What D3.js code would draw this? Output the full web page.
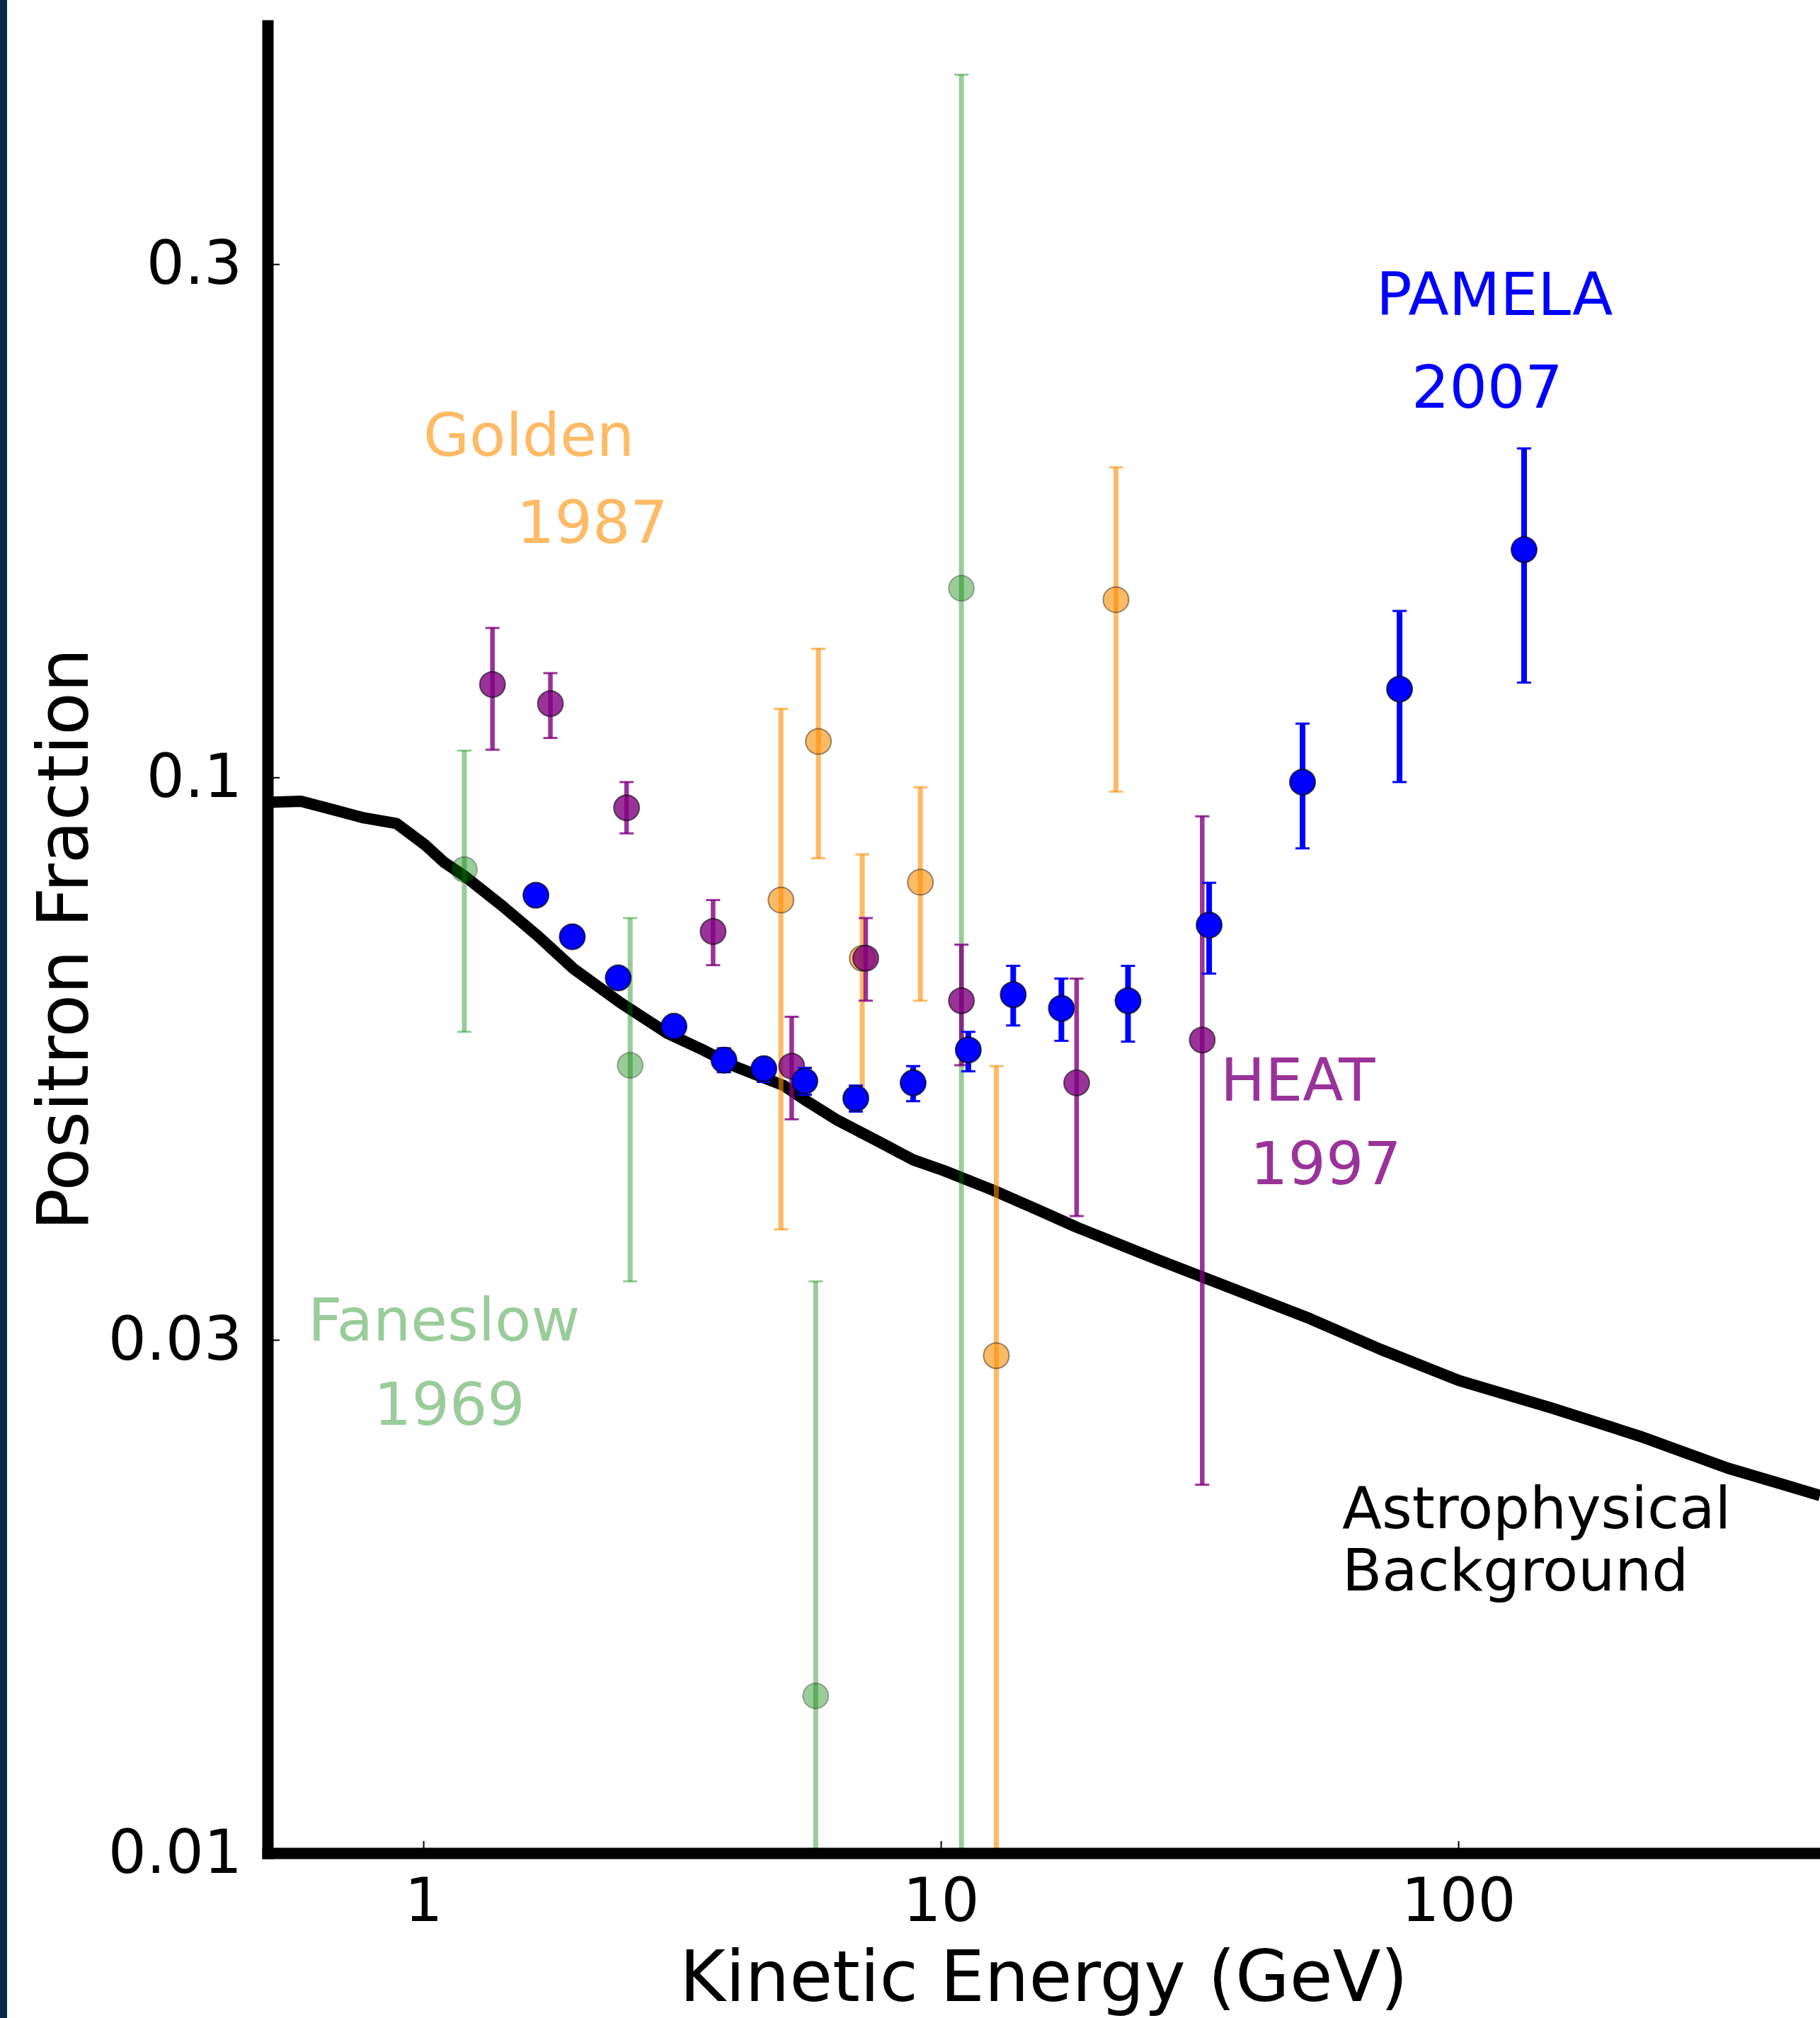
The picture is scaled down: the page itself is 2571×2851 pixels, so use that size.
<!DOCTYPE html>
<html>
<head>
<meta charset="utf-8">
<script src="https://cdn.jsdelivr.net/npm/d3@7"></script>
<style>
  html, body { margin: 0; padding: 0; background: #fff; }
  svg { display: block; }
</style>
</head>
<body>
<div id="chart"></div>
<script>
// Astrophysical background (black curve)
const bgEnergy = [0.5, 0.58, 0.664, 0.767, 0.887, 1.006, 1.096, 1.204, 1.423, 1.665, 1.95, 2.408, 2.965, 3.47, 4.024, 4.969, 5.513, 6.314, 7.553, 8.843, 10.13, 12.51, 15.44, 18.25, 26.3, 37.66, 51.61, 70.71, 100.3, 152.5, 224.7, 331.1, 500];
const bgFraction = [0.0948, 0.0950, 0.0934, 0.0917, 0.0906, 0.0866, 0.0834, 0.0809, 0.0759, 0.0712, 0.0664, 0.0617, 0.0578, 0.0558, 0.0538, 0.0517, 0.0500, 0.0480, 0.0459, 0.0441, 0.0431, 0.0414, 0.0396, 0.0382, 0.0356, 0.0333, 0.0314, 0.0294, 0.0275, 0.0259, 0.0244, 0.0228, 0.0215];

// Faneslow 1969
const faneEnergy = [1.20, 2.51, 5.73, 10.96];
const faneFraction = [0.0821, 0.0540, 0.0140, 0.1499];
const faneLow = [0.0580, 0.0340, 0.005, 0.005];
const faneHigh = [0.1059, 0.0740, 0.0340, 0.450];

// Golden 1987
const goldenEnergy = [4.91, 5.80, 7.05, 9.13, 12.8, 21.8];
const goldenFraction = [0.0769, 0.1080, 0.0679, 0.0799, 0.0290, 0.1463];
const goldenLow = [0.0380, 0.0841, 0.0508, 0.0620, 0.005, 0.0970];
const goldenHigh = [0.1158, 0.1317, 0.0848, 0.0979, 0.0539, 0.1942];

// HEAT 1997
const heatEnergy = [1.36, 1.76, 2.47, 3.63, 5.15, 7.16, 10.96, 18.3, 32.0];
const heatFraction = [0.1220, 0.1171, 0.0937, 0.0719, 0.0539, 0.0679, 0.0620, 0.0520, 0.0570];
const heatLow = [0.1061, 0.1088, 0.0887, 0.0669, 0.0481, 0.0620, 0.0540, 0.0391, 0.0220];
const heatHigh = [0.1377, 0.1250, 0.0990, 0.0769, 0.0599, 0.0740, 0.0699, 0.0650, 0.0920];

// PAMELA 2007
const pamelaEnergy = [1.65, 1.94, 2.38, 3.05, 3.81, 4.55, 5.46, 6.85, 8.84, 11.3, 13.8, 17.1, 23.0, 33.0, 50.0, 77.0, 134];
const pamelaFraction = [0.0777, 0.0711, 0.0651, 0.0587, 0.0546, 0.0536, 0.0522, 0.0503, 0.0520, 0.0558, 0.0628, 0.0610, 0.0620, 0.0729, 0.0990, 0.1208, 0.1628];
const pamelaLow = [0.0770, 0.0704, 0.0644, 0.0580, 0.0532, 0.0521, 0.0507, 0.0489, 0.0500, 0.0533, 0.0588, 0.0569, 0.0568, 0.0657, 0.0859, 0.0990, 0.1225];
const pamelaHigh = [0.0784, 0.0718, 0.0658, 0.0594, 0.0560, 0.0548, 0.0537, 0.0517, 0.0539, 0.0580, 0.0668, 0.0650, 0.0668, 0.0798, 0.1122, 0.1428, 0.2022];

// Ticks
const xTicks = [1, 10, 100];
const xTickLabels = ['1', '10', '100'];
const yTicks = [0.01, 0.03, 0.1, 0.3];
const yTickLabels = ['0.01', '0.03', '0.1', '0.3'];

const width = 2571, height = 2851;
const margin = { top: 36, right: 0, bottom: 233, left: 378 };
const font = 'DejaVu Sans, Verdana, sans-serif';

const svg = d3.select('#chart')
    .append('svg')
    .attr('width', width)
    .attr('height', height);

svg.append('rect').attr('width', width).attr('height', height).attr('fill', '#fff');
// dark strip on the left edge
svg.append('rect').attr('x', 0).attr('y', 0).attr('width', 10).attr('height', height).attr('fill', '#072a44');

const x = d3.scaleLog().domain([0.5, 500]).range([margin.left, width - margin.right]);
const y = d3.scaleLog().domain([0.01, 0.5]).range([height - margin.bottom, margin.top]);

svg.append('clipPath').attr('id', 'plot-clip')
    .append('rect')
    .attr('x', x.range()[0]).attr('y', y.range()[1])
    .attr('width', x.range()[1] - x.range()[0])
    .attr('height', y.range()[0] - y.range()[1]);

const plot = svg.append('g').attr('clip-path', 'url(#plot-clip)');

// Background curve
const line = d3.line().x(d => x(d[0])).y(d => y(d[1]));
plot.append('path')
    .datum(bgEnergy.map((e, i) => [e, bgFraction[i]]))
    .attr('d', line)
    .attr('fill', 'none')
    .attr('stroke', '#000')
    .attr('stroke-width', 16)
    .attr('stroke-linejoin', 'round');

// Punti con barre d'errore
function drawSeries(energy, frac, low, high, color, alpha, barWidth) {
    const pts = energy.map((e, i) => ({ e, f: frac[i], lo: low[i], hi: high[i] }));
    const g = plot.append('g');
    const [yMin, yMax] = y.domain();

    g.selectAll('line.bar')
        .data(pts)
        .join('line')
        .attr('class', 'bar')
        .attr('x1', d => x(d.e)).attr('x2', d => x(d.e))
        .attr('y1', d => y(d.lo)).attr('y2', d => y(d.hi))
        .attr('stroke', color)
        .attr('stroke-opacity', alpha)
        .attr('stroke-width', barWidth);

    const caps = [];
    pts.forEach(d => {
        if (d.lo >= yMin) caps.push({ e: d.e, v: d.lo });
        if (d.hi <= yMax) caps.push({ e: d.e, v: d.hi });
    });
    g.selectAll('line.cap')
        .data(caps)
        .join('line')
        .attr('class', 'cap')
        .attr('x1', d => x(d.e) - 10).attr('x2', d => x(d.e) + 10)
        .attr('y1', d => y(d.v)).attr('y2', d => y(d.v))
        .attr('stroke', color)
        .attr('stroke-opacity', alpha)
        .attr('stroke-width', 3);

    g.selectAll('circle')
        .data(pts)
        .join('circle')
        .attr('cx', d => x(d.e))
        .attr('cy', d => y(d.f))
        .attr('r', 18)
        .attr('fill', color)
        .attr('fill-opacity', alpha)
        .attr('stroke', '#000')
        .attr('stroke-opacity', alpha * 0.7)
        .attr('stroke-width', 2);
}

drawSeries(faneEnergy, faneFraction, faneLow, faneHigh, 'green', 0.4, 7);
drawSeries(goldenEnergy, goldenFraction, goldenLow, goldenHigh, 'darkorange', 0.6, 7);
drawSeries(heatEnergy, heatFraction, heatLow, heatHigh, 'purple', 0.8, 6.5);
drawSeries(pamelaEnergy, pamelaFraction, pamelaLow, pamelaHigh, 'blue', 1, 8);

// Assi
const xAxis = d3.axisBottom(x)
    .tickValues(xTicks)
    .tickFormat((d, i) => xTickLabels[i])
    .tickSizeInner(-17)
    .tickSizeOuter(0)
    .tickPadding(36);

const yAxis = d3.axisLeft(y)
    .tickValues(yTicks)
    .tickFormat((d, i) => yTickLabels[i])
    .tickSizeInner(-17)
    .tickSizeOuter(0)
    .tickPadding(36);

const gx = svg.append('g').attr('transform', `translate(0,${y.range()[0]})`).call(xAxis);
const gy = svg.append('g').attr('transform', `translate(${x.range()[0]},0)`).call(yAxis);

[gx, gy].forEach(g => {
    g.select('.domain')
        .attr('stroke', '#000')
        .attr('stroke-width', 16)
        .attr('stroke-linecap', 'square');
    g.selectAll('.tick line').attr('stroke', '#000').attr('stroke-width', 2);
    g.selectAll('.tick text')
        .attr('font-family', font)
        .attr('font-size', 85)
        .attr('fill', '#000');
});

// Titoli assi
svg.append('text')
    .attr('x', (x.range()[0] + x.range()[1]) / 2)
    .attr('y', 2827)
    .attr('text-anchor', 'middle')
    .attr('font-family', font)
    .attr('font-size', 99)
    .attr('fill', '#000')
    .text('Kinetic Energy (GeV)');

svg.append('text')
    .attr('transform', `translate(124,${(y.range()[0] + y.range()[1]) / 2}) rotate(-90)`)
    .attr('text-anchor', 'middle')
    .attr('font-family', font)
    .attr('font-size', 99)
    .attr('fill', '#000')
    .text('Positron Fraction');

// Etichette serie
const labels = [
    { text: 'Golden', x: 598, y: 644, color: 'darkorange', alpha: 0.6, size: 84 },
    { text: '1987', x: 730, y: 767, color: 'darkorange', alpha: 0.6, size: 84 },
    { text: 'PAMELA', x: 1944, y: 445, color: 'blue', alpha: 1, size: 84 },
    { text: '2007', x: 1994, y: 576, color: 'blue', alpha: 1, size: 84 },
    { text: 'HEAT', x: 1724, y: 1555, color: 'purple', alpha: 0.8, size: 84 },
    { text: '1997', x: 1766, y: 1673, color: 'purple', alpha: 0.8, size: 84 },
    { text: 'Faneslow', x: 435, y: 1894, color: 'green', alpha: 0.4, size: 84 },
    { text: '1969', x: 528, y: 2013, color: 'green', alpha: 0.4, size: 84 },
    { text: 'Astrophysical', x: 1896, y: 2159, color: '#000', alpha: 1, size: 82 },
    { text: 'Background', x: 1896, y: 2247, color: '#000', alpha: 1, size: 82 }
];

svg.selectAll('.series-label')
    .data(labels)
    .join('text')
    .attr('class', 'series-label')
    .attr('x', d => d.x)
    .attr('y', d => d.y)
    .attr('font-family', font)
    .attr('font-size', d => d.size)
    .attr('fill', d => d.color)
    .attr('fill-opacity', d => d.alpha)
    .text(d => d.text);
</script>
</body>
</html>
